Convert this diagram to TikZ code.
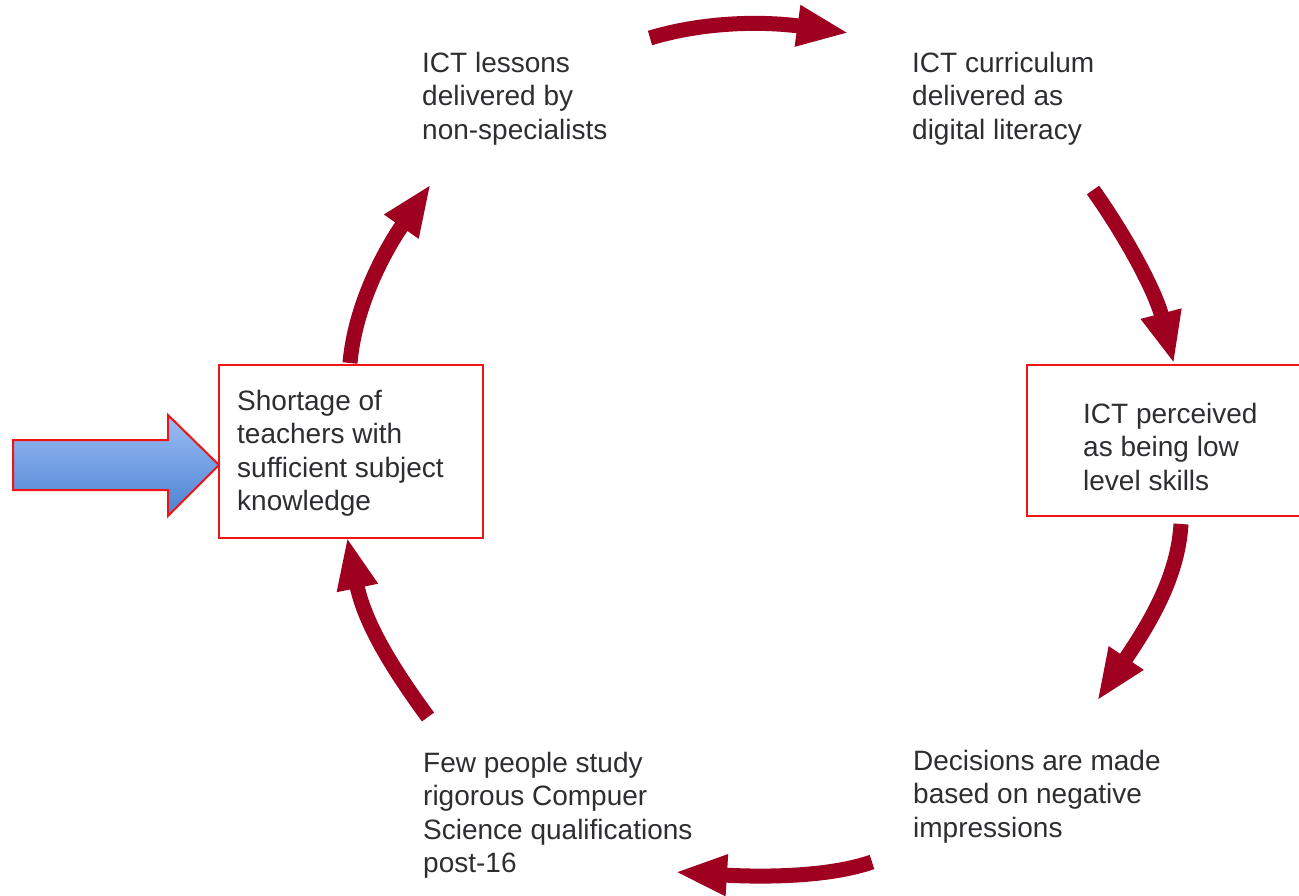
\documentclass[tikz,border=0pt]{standalone}
\usepackage{fontspec}
\setmainfont{Liberation Sans}
\usetikzlibrary{arrows.meta}
\definecolor{cyclered}{RGB}{160,0,32}
\definecolor{boxred}{RGB}{240,20,20}
\definecolor{txt}{RGB}{45,45,50}
\definecolor{bluetop}{RGB}{155,190,245}
\definecolor{bluebot}{RGB}{75,130,210}
\tikzset{
  lbl/.style={anchor=north west, inner sep=0pt, align=left, text=txt,
    font=\fontsize{28}{33.5}\selectfont},
  cyc/.style={draw=cyclered, line width=15pt,
    -{Triangle[length=52pt,width=38pt]}},
  redbox/.style={draw=boxred, line width=1.6pt, fill=white}
}
\newcommand{\fs}{\rule{0pt}{22pt}}
\begin{document}
\begin{tikzpicture}[x=1pt,y=-1pt]
\useasboundingbox (0,0) rectangle (1299,895);
\clip (0,0) rectangle (1299,895);
% boxes
\draw[redbox] (219,365) rectangle (483,538);
\draw[redbox] (1027,365) rectangle (1310,516);
% texts
\node[lbl] (lessons) at (422,50) {\fs ICT lessons\\delivered by\\non-specialists};
\node[lbl] (curric) at (912,50) {\fs ICT curriculum\\delivered as\\digital literacy};
\node[lbl] (perceived) at (1083,401) {\fs ICT perceived\\as being low\\level skills};
\node[lbl] (decisions) at (913,748) {\fs Decisions are made\\based on negative\\impressions};
\node[lbl] (few) at (423,750) {\fs Few people study\\rigorous Compuer\\Science qualifications\\post-16};
\node[lbl] (shortage) at (237,388) {\fs Shortage of\\teachers with\\sufficient subject\\knowledge};
% arrow end coordinates
\coordinate (a1s) at (650,38);  \coordinate (a1e) at (849,33);
\coordinate (a2s) at (1093,190); \coordinate (a2e) at (1174,364);
\coordinate (a3s) at (1181,524); \coordinate (a3e) at (1097,701);
\coordinate (a4s) at (872,862);  \coordinate (a4e) at (675,872);
\coordinate (a5s) at (428,717);  \coordinate (a5e) at (347,537);
\coordinate (a6s) at (350,363);  \coordinate (a6e) at (431,184);
% cycle arrows
\draw[cyc] (a1s) .. controls (710,20) and (770,22) .. (a1e);
\draw[cyc] (a2s) .. controls (1125,235) and (1155,290) .. (a2e);
\draw[cyc] (a3s) .. controls (1178,575) and (1152,620) .. (a3e);
\draw[cyc] (a4s) .. controls (820,880) and (740,876) .. (a4e);
\draw[cyc] (a5s) .. controls (395,672) and (365,625) .. (a5e);
\draw[cyc] (a6s) .. controls (355,305) and (385,250) .. (a6e);
% blue input arrow
\draw[draw=boxred, line width=2pt, top color=bluetop, bottom color=bluebot]
  (13,440) -- (168,440) -- (168,415) -- (219,465) -- (168,516) -- (168,490) -- (13,490) -- cycle;
\end{tikzpicture}
\end{document}
